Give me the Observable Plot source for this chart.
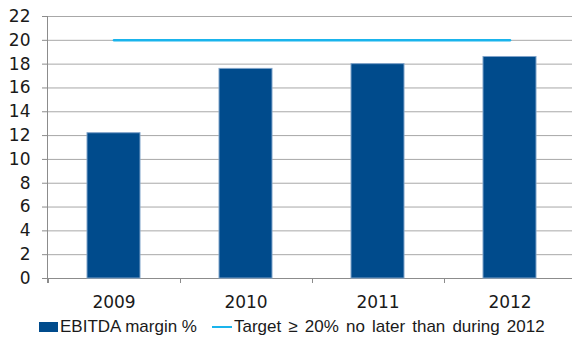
<!DOCTYPE html>
<html>
<head>
<meta charset="utf-8">
<script src="https://cdn.jsdelivr.net/npm/d3@7"></script>
<script src="https://cdn.jsdelivr.net/npm/@observablehq/plot@0.6"></script>
<style>
  html, body { margin: 0; padding: 0; background: #fff; }
  #chart { width: 572px; height: 341px; overflow: hidden; }
  .legend { display: flex; align-items: center; height: 29px; font-family: "Liberation Sans", Arial, sans-serif; font-size: 17px; color: #1a1a1a; padding-left: 39px; }
  .sw-bar { width: 19px; height: 10px; background: #004b8c; display: inline-block; margin-right: 2px; }
  .sw-line { width: 20px; height: 2px; background: #1ab4ec; display: inline-block; margin-right: 2px; margin-left: 15px; }
  .lbl-target { word-spacing: 2.4px; }
</style>
</head>
<body>
<div id="chart"></div>
<script>
const years = ["2009", "2010", "2011", "2012"];
const ebitda = [12.2, 17.6, 18.0, 18.6];
const target = [20, 20, 20, 20];
const yTicks = [0, 2, 4, 6, 8, 10, 12, 14, 16, 18, 20, 22];
const barLabel = "EBITDA margin %";
const targetLabel = "Target ≥ 20% no later than during 2012";

const rows = years.map((y, i) => ({year: y, ebitda: ebitda[i], target: target[i]}));

const axisColor = "#8c8c8c";
const gridColor = "#a8a8a8";

function axisLines(index, scales, values, dims) {
  const x = scales.x, y = scales.y;
  const bw = typeof x.bandwidth === "function" ? x.bandwidth() : (x.bandwidth || 0);
  const centers = years.map(v => x(v) + bw / 2);
  const step = centers[1] - centers[0];
  const g = d3.create("svg:g");
  const y0 = y(0);
  g.append("line")
    .attr("x1", dims.marginLeft + 0.5).attr("x2", dims.marginLeft + 0.5)
    .attr("y1", y(yTicks[yTicks.length - 1])).attr("y2", y0 + 5)
    .attr("stroke", axisColor);
  const edges = centers.map(c => c - step / 2).concat([centers[centers.length - 1] + step / 2]);
  edges.forEach(e => {
    g.append("line")
      .attr("x1", Math.round(e) + 0.5).attr("x2", Math.round(e) + 0.5)
      .attr("y1", y0).attr("y2", y0 + 5)
      .attr("stroke", axisColor);
  });
  return g.node();
}

const chart = Plot.plot({
  width: 572,
  height: 312,
  marginLeft: 47,
  marginRight: 0,
  marginTop: 16,
  marginBottom: 34,
  style: {fontFamily: "'DejaVu Sans', sans-serif", fontSize: "17px", color: "#1a1a1a", background: "#fff"},
  x: {type: "band", domain: years, range: [47, 576], paddingInner: 0.6, paddingOuter: 0.3, label: null},
  y: {domain: [0, 22], label: null},
  marks: [
    Plot.ruleY(yTicks, {stroke: gridColor, strokeWidth: 1}),
    Plot.ruleY([0], {stroke: axisColor, strokeWidth: 1}),
    Plot.barY(rows, {x: "year", y: "ebitda", fill: "#004b8c", stroke: "#7fa3c9", strokeWidth: 1}),
    Plot.line(rows, {x: "year", y: "target", stroke: "#1ab4ec", strokeWidth: 2.5}),
    Plot.axisY({ticks: yTicks, tickSize: 5, tickPadding: 12, stroke: axisColor, fontSize: 17, fill: "#1a1a1a"}),
    Plot.axisX({tickSize: 0, tickPadding: 17, fontSize: 17, fill: "#1a1a1a"}),
    axisLines
  ]
});

const root = document.getElementById("chart");
root.appendChild(chart);

const legend = document.createElement("div");
legend.className = "legend";
legend.innerHTML = `<span class="sw-bar"></span><span>${barLabel}</span><span class="sw-line"></span><span class="lbl-target">${targetLabel}</span>`;
root.appendChild(legend);
</script>
</body>
</html>
